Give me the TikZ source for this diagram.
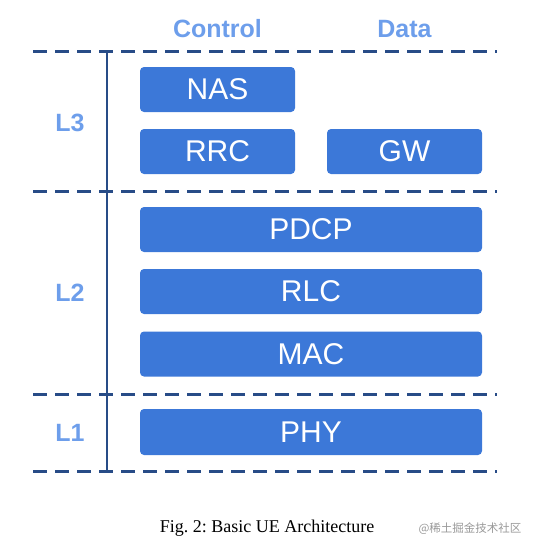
\documentclass[tikz,border=0pt]{standalone}
\usepackage{fontspec}
\setmainfont{Liberation Serif}
\newfontfamily\arialf{Liberation Sans}
\newfontfamily\cjkf{Noto Sans CJK SC}
\definecolor{boxblue}{HTML}{3C78D8}
\definecolor{lblblue}{HTML}{6D9EEB}
\definecolor{navy}{HTML}{284C87}
\begin{document}
\frenchspacing
\begin{tikzpicture}[x=1pt,y=-1pt,
  layerbox/.style={draw=none,fill=boxblue,rounded corners=4pt,text=white,
    font=\arialf\fontsize{30}{30}\selectfont,inner sep=0pt,
    minimum height=45pt,minimum width=155pt},
  widebox/.style={layerbox,minimum width=342pt},
  hdr/.style={text=lblblue,font=\arialf\bfseries\fontsize{25}{25}\selectfont,inner sep=0pt},
  sep/.style={draw=navy,line width=3pt,dash pattern=on 14pt off 8pt},
  axis/.style={draw=navy,line width=2.5pt}]
\useasboundingbox (0,0) rectangle (536,550);
% headers
\node[hdr] (control) at (217.5,29) {Control};
\node[hdr] (data) at (404.5,29) {Data};
\node[hdr] (l3) at (70,123) {L3};
\node[hdr] (l2) at (70,293) {L2};
\node[hdr] (l1) at (70,433) {L1};
% separators
\draw[sep] (33,51) -- (497,51);
\draw[sep] (33,191) -- (497,191);
\draw[sep] (33,394) -- (497,394);
\draw[sep] (33,471) -- (497,471);
\draw[axis] (107,51) -- (107,471);
% boxes
\node[layerbox] (nas) at (217.5,89.5) {NAS};
\node[layerbox] (rrc) at (217.5,151.5) {RRC};
\node[layerbox] (gw) at (404.5,151.5) {GW};
\node[widebox] (pdcp) at (311,229.5) {PDCP};
\node[widebox] (rlc) at (311,291.5) {RLC};
\node[widebox] (mac) at (311,354) {MAC};
\node[widebox,minimum height=46pt] (phy) at (311,432) {PHY};
% caption
\node[font=\fontsize{18}{18}\selectfont,inner sep=0pt] (cap) at (267,528) {Fig. 2: Basic UE Architecture};
\node[font=\cjkf\fontsize{11.5}{11.5}\selectfont,text=black!40,inner sep=0pt] (wm) at (470,529) {@稀土掘金技术社区};
\end{tikzpicture}
\end{document}
